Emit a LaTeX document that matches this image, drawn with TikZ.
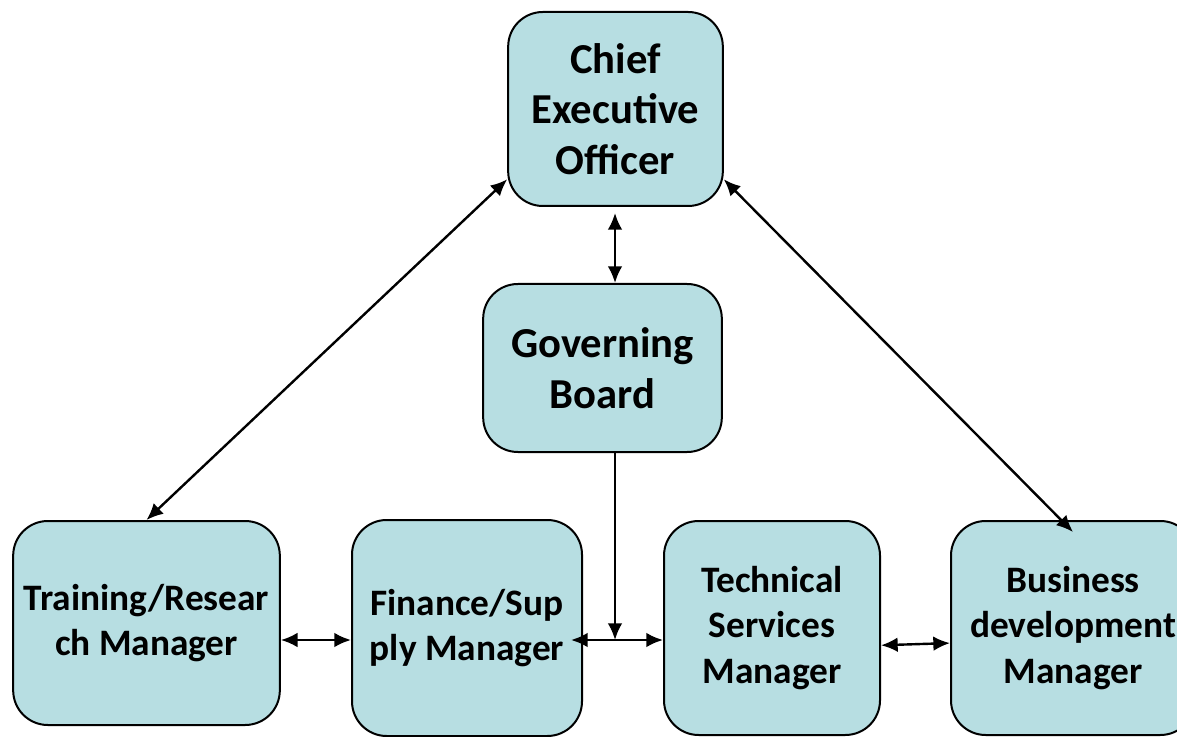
\documentclass[tikz,border=0pt]{standalone}
\usepackage{fontspec}
\setmainfont{Carlito}
\usepackage{tikz}
\usetikzlibrary{arrows.meta}
\definecolor{boxteal}{RGB}{183,222,226}

\begin{document}
\begin{tikzpicture}[
  x=0.75pt, y=-0.75pt,
  >={Latex[length=12.5pt,width=11pt]},
  post/.style={draw, line width=1.5pt, rounded corners=26pt, fill=boxteal, align=center, inner sep=0pt, font=\bfseries\fontsize{32}{38}\selectfont},
  staff/.style={post, font=\bfseries\fontsize{28}{34}\selectfont},
  link/.style={<->, line width=1.8pt}
]
\clip (0,0) rectangle (1177,737);

% Top of the chart
\node[post, minimum width=161pt, minimum height=145.5pt] (ceo) at (615.5,109) {Chief\\Executive\\Officer};
\node[post, minimum width=179pt, minimum height=126pt] (gov) at (602.5,368) {Governing\\Board};

% Managers
\node[staff, minimum width=200pt, minimum height=153pt] (train) at (146.5,623) {Training/Resear\\ch Manager};
\node[staff, minimum width=172.5pt, minimum height=162pt] (fin) at (467,628) {Finance/Sup\\ply Manager};
\node[staff, minimum width=162pt, minimum height=160.5pt] (tech) at (772,628) {Technical\\Services\\Manager};
\node[staff, minimum width=183pt, minimum height=160.5pt] (bus) at (1073,628) {Business\\development\\Manager};

\coordinate (jn) at (615,640);

% Arrows
\draw[link] (ceo.213) -- (train.north);
\draw[link] (ceo.-33) -- ([yshift=-9pt]bus.north);
\draw[link] ([yshift=-4.5pt]ceo.south -| jn) -- (gov.north -| jn);
\draw[->, line width=1.8pt] (gov.south -| jn) -- (jn);
\draw[link] (train.east |- jn) -- (fin.west |- jn);
\draw[link] ([xshift=-9pt]fin.east |- jn) -- (tech.west |- jn);
\draw[link] (tech.-9.5) -- (bus.187);

\end{tikzpicture}
\end{document}
